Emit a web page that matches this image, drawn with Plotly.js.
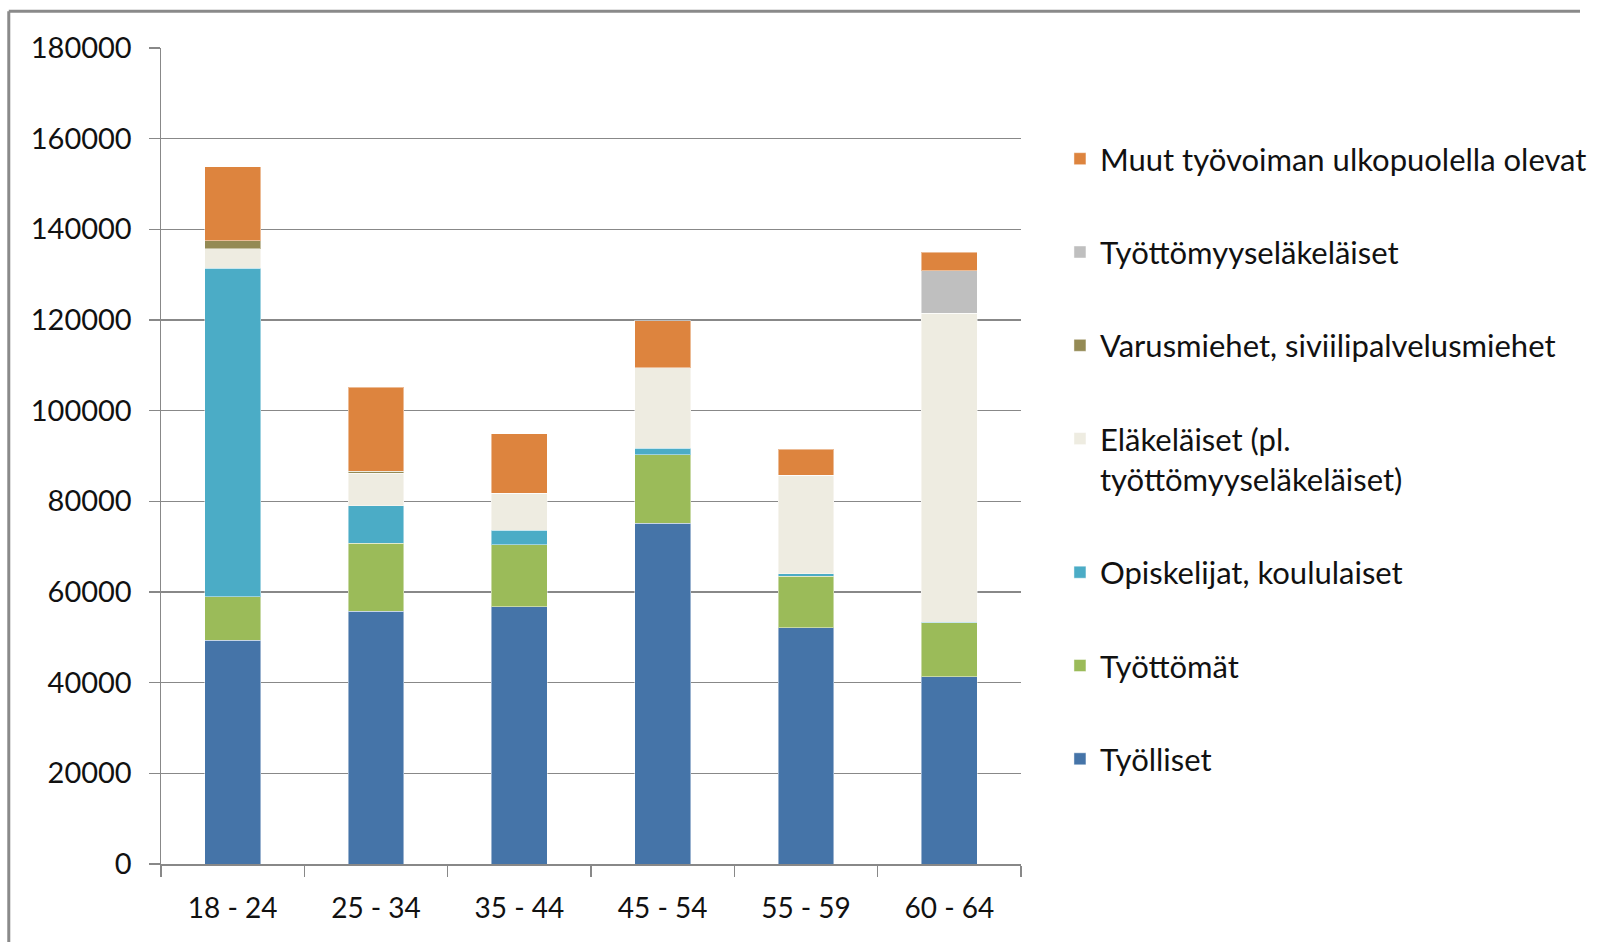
<!DOCTYPE html>
<html>
<head>
<meta charset="utf-8">
<script src="https://cdn.plot.ly/plotly-3.0.1.min.js"></script>
<style>
  html, body { margin: 0; padding: 0; background: #ffffff; }
  #chart { width: 1606px; height: 942px; }
</style>
</head>
<body>
<div id="chart"></div>
<script>
// Age groups
const categories = ["18 - 24", "25 - 34", "35 - 44", "45 - 54", "55 - 59", "60 - 64"];

// Series values (persons)
const tyolliset             = [49400, 55700, 56800, 75200, 52100, 41300];
const tyottomat             = [9500, 15000, 13600, 15100, 11400, 11900];
const opiskelijat           = [72500, 8300, 3200, 1400, 500, 100];
const elakelaiset           = [4300, 7200, 8200, 17800, 21700, 68200];
const varusmiehet           = [1800, 400, 0, 0, 0, 0];
const tyottomyyselakelaiset = [0, 0, 0, 0, 0, 9400];
const muut                  = [16300, 18600, 13100, 10300, 5800, 4100];

const seriesNames = [
  "Työlliset",
  "Työttömät",
  "Opiskelijat, koululaiset",
  "Eläkeläiset (pl.<br>työttömyyseläkeläiset)",
  "Varusmiehet, siviilipalvelusmiehet",
  "Työttömyyseläkeläiset",
  "Muut työvoiman ulkopuolella olevat"
];
const seriesValues = [tyolliset, tyottomat, opiskelijat, elakelaiset, varusmiehet, tyottomyyselakelaiset, muut];
const seriesColors = ["#4574A8", "#9BBB59", "#4BACC6", "#EEECE1", "#948A54", "#BFBFBF", "#DD843E"];

const traces = seriesNames.map((name, i) => ({
  type: "bar",
  name: name,
  x: categories,
  y: seriesValues[i],
  legendgroup: "g" + i,
  legendrank: 100 - i,
  marker: { color: seriesColors[i], line: { color: "rgba(255,255,255,0.45)", width: 1 } },
  hoverinfo: "x+y+name"
}));

const FONT = "Lato, 'Open Sans', sans-serif";
const GRID = "#888888";

const layout = {
  width: 1606,
  height: 942,
  paper_bgcolor: "#ffffff",
  plot_bgcolor: "#ffffff",
  barmode: "stack",
  bargap: 0.61,
  margin: { l: 161, r: 585, t: 48, b: 78, pad: 0 },
  font: { family: FONT, size: 28, color: "#111111" },
  showlegend: true,
  legend: {
    x: 1.0453,
    xanchor: "left",
    y: 0.897,
    yanchor: "top",
    traceorder: "grouped",
    tracegroupgap: 50,
    valign: "top",
    bgcolor: "rgba(0,0,0,0)",
    font: { family: FONT, size: 31, color: "#111111" }
  },
  xaxis: {
    type: "category",
    showline: true,
    linecolor: GRID,
    linewidth: 1.5,
    ticks: "outside",
    tickson: "boundaries",
    ticklen: 11,
    tickcolor: GRID,
    tickwidth: 1.5,
    showgrid: false,
    ticklabelstandoff: 19,
    tickfont: { family: FONT, size: 28, color: "#111111" }
  },
  yaxis: {
    range: [0, 180000],
    dtick: 20000,
    tick0: 0,
    tickformat: "d",
    showgrid: true,
    gridcolor: GRID,
    gridwidth: 1.5,
    zeroline: false,
    showline: true,
    linecolor: GRID,
    linewidth: 1.5,
    ticks: "outside",
    ticklen: 11,
    tickcolor: GRID,
    tickwidth: 1.5,
    ticklabelstandoff: 11,
    tickfont: { family: FONT, size: 29, color: "#111111" }
  },
  shapes: [
    { type: "line", xref: "paper", yref: "paper", x0: -0.177, x1: 1.65, y0: 1.045, y1: 1.045,
      line: { color: "#8a8a8a", width: 3 } },
    { type: "line", xref: "paper", yref: "paper", x0: -0.177, x1: -0.177, y0: 1.045, y1: -0.12,
      line: { color: "#8a8a8a", width: 3 } }
  ]
};

Plotly.newPlot("chart", traces, layout, { displayModeBar: false, staticPlot: true });
</script>
</body>
</html>
